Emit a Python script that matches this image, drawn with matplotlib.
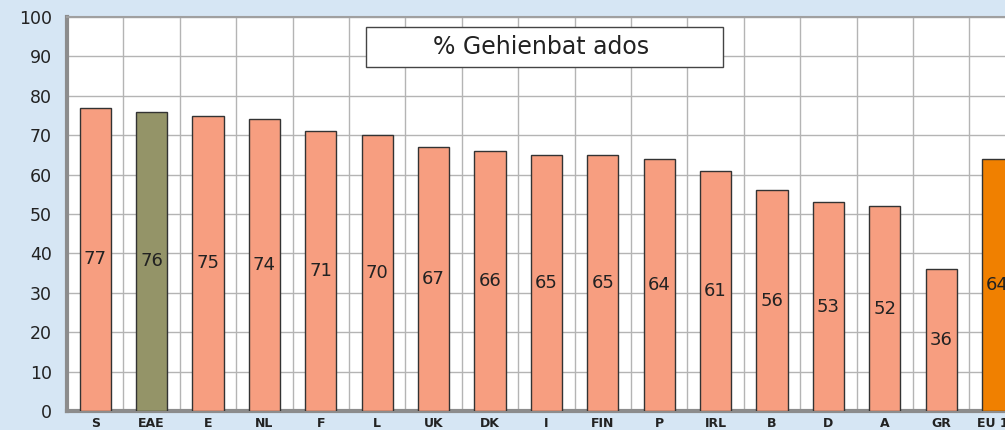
import numpy as np
import matplotlib
matplotlib.use("Agg")
import matplotlib.pyplot as plt
from matplotlib.patches import Rectangle

# data
countries = ["S", "EAE", "E", "NL", "F", "L", "UK", "DK", "I", "FIN",
             "P", "IRL", "B", "D", "A", "GR", "EU 15"]
values = [77, 76, 75, 74, 71, 70, 67, 66, 65, 65, 64, 61, 56, 53, 52, 36, 64]
colors = ["#F79E80", "#949468"] + ["#F79E80"] * 14 + ["#F08000"]
title = "% Gehienbat ados"

plt.rcParams['font.family'] = ['DejaVu Sans']

W, H = 1005, 430
fig = plt.figure(figsize=(W / 100, H / 100), dpi=100)
fig.patch.set_facecolor("#D6E6F4")

# plot area runs off the right edge, like the original screenshot
ax = fig.add_axes([67 / W, 19 / H, 56.4 * 17 / W, 394 / H])
ax.set_facecolor("white")

x = np.arange(len(countries))
ax.bar(x, values, 0.55, color=colors, edgecolor="#333333", linewidth=1, zorder=3)

# value labels in the middle of each bar
for xi, v in zip(x, values):
    ax.text(xi, v / 2, str(v), ha="center", va="center", fontsize=13,
            color="#222222", zorder=4)

ax.set_xlim(-0.5, len(countries) - 0.5)
ax.set_ylim(0, 100)
ax.set_yticks(np.arange(0, 101, 10))
ax.set_xticks(x)
ax.set_xticklabels(countries, fontsize=9, fontweight="bold", color="#222222")
ax.tick_params(axis="y", labelsize=12.5, length=0, pad=11, colors="#222222")
ax.tick_params(axis="x", length=0, pad=4)

# grid: horizontal every 10, vertical at category boundaries
ax.set_xticks(np.arange(-0.5, len(countries), 1), minor=True)
ax.grid(True, axis="y", color="#B4B4B4", linewidth=1, zorder=0)
ax.grid(True, axis="x", which="minor", color="#B4B4B4", linewidth=1, zorder=0)
ax.grid(False, axis="x", which="major")
ax.tick_params(axis="x", which="minor", length=0)

for side in ["left", "bottom"]:
    ax.spines[side].set_color("#8C8C8C")
    ax.spines[side].set_linewidth(3)
ax.spines["top"].set_color("#A0A0A0")
ax.spines["top"].set_linewidth(1.5)
ax.spines["right"].set_visible(False)

# title box inside the plot
fig.patches.append(Rectangle((366 / W, 1 - 67 / H), 357 / W, 40 / H,
                             transform=fig.transFigure, facecolor="white",
                             edgecolor="#444444", linewidth=1, zorder=5))
fig.text(541 / W, 1 - 47 / H, title, ha="center", va="center",
         fontsize=17, color="#222222", zorder=6)

fig.savefig("out.png", dpi=100, facecolor=fig.get_facecolor())
